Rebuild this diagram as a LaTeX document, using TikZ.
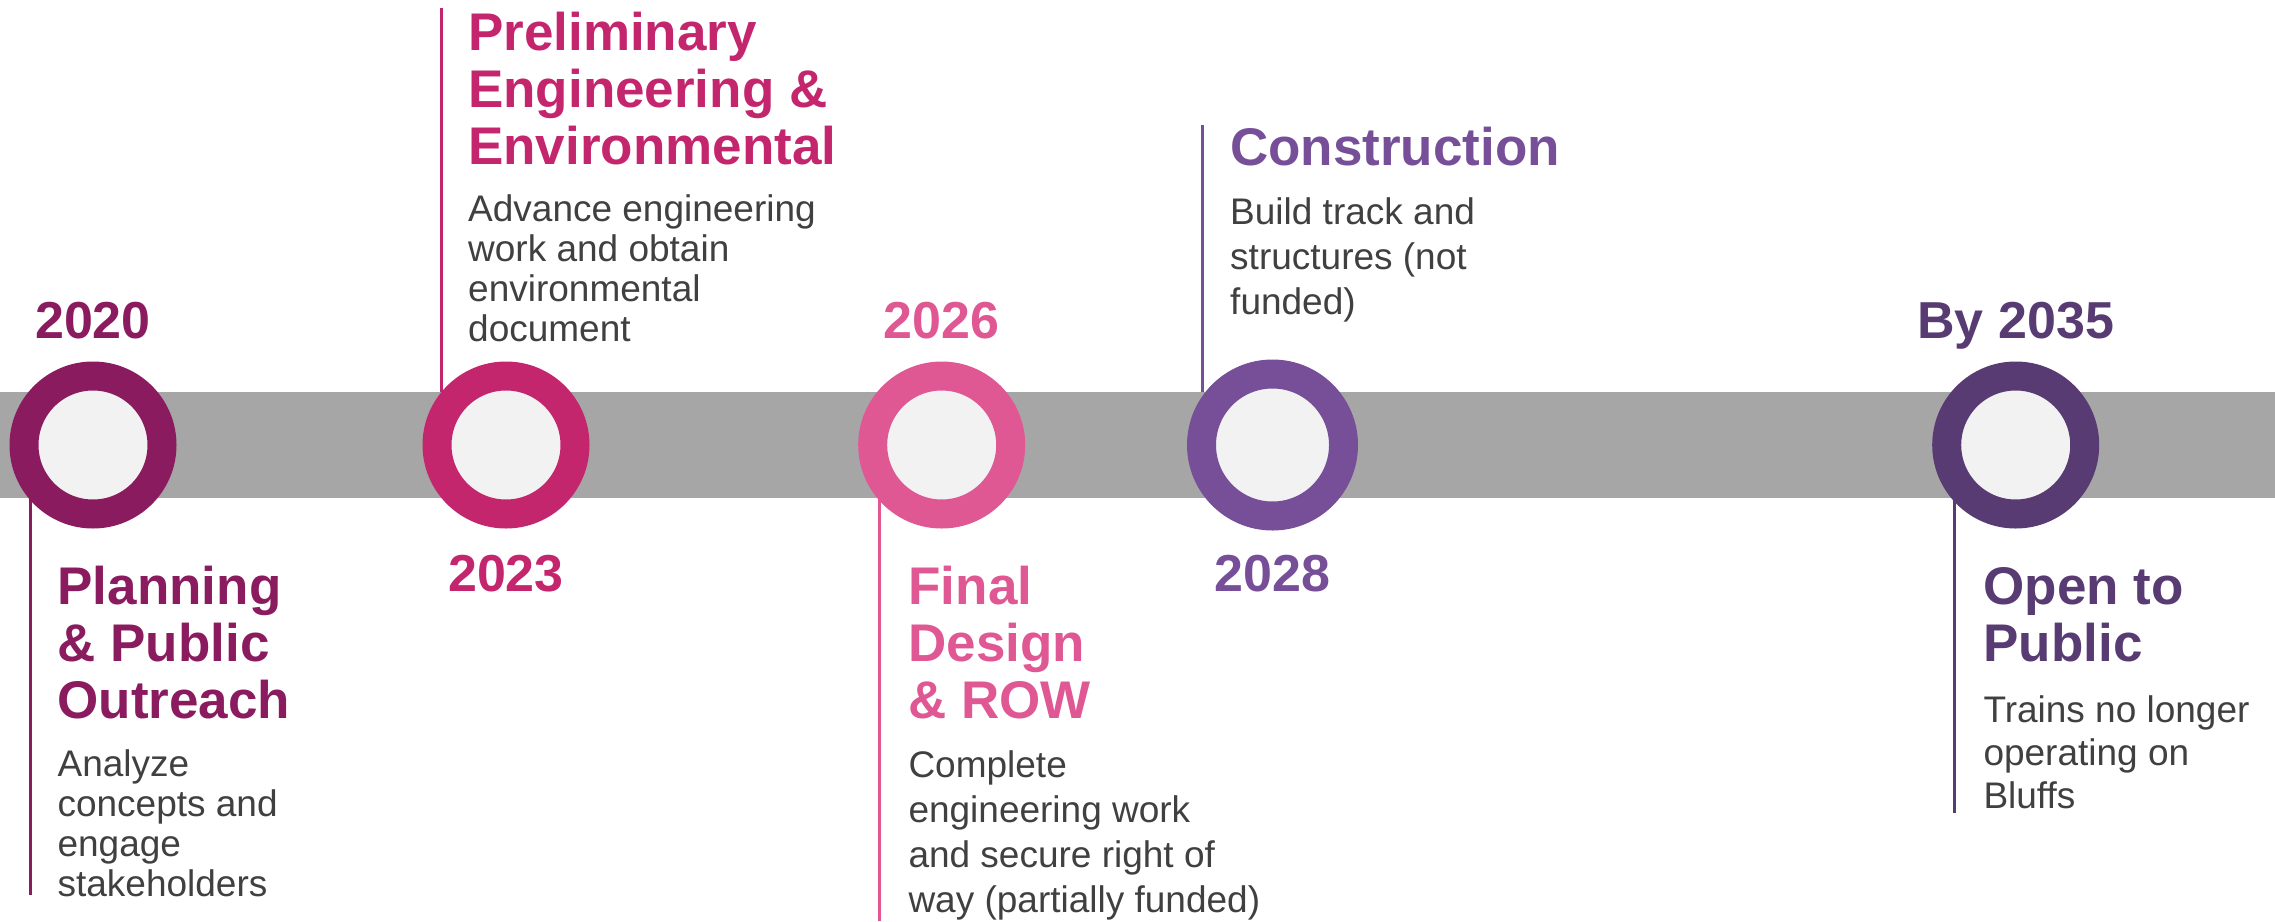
\documentclass[tikz,border=0pt]{standalone}
\usepackage{fontspec}
\setmainfont{Liberation Sans}
\usetikzlibrary{positioning}
\usetikzlibrary{backgrounds}

\definecolor{planc}{HTML}{8B1B5F}
\definecolor{prelc}{HTML}{C4266E}
\definecolor{finalc}{HTML}{DF5893}
\definecolor{buildc}{HTML}{774F98}
\definecolor{openc}{HTML}{583B72}
\definecolor{bargray}{HTML}{A6A6A6}
\definecolor{ringfill}{HTML}{F2F2F2}
\definecolor{blurbgray}{HTML}{404040}

\tikzset{
  ring/.style={circle, draw=#1, line width=29pt, fill=ringfill, minimum size=138pt, inner sep=0, outer sep=0},
  yearlabel/.style={font=\bfseries\fontsize{52}{57}\selectfont, text=#1, inner sep=0},
  phase/.style={font=\bfseries\fontsize{53}{57}\selectfont, text=#1, align=left, inner sep=0, anchor=north west},
  blurb/.style={font=\fontsize{37}{#1}\selectfont, text=blurbgray, align=left, inner sep=0, anchor=north west},
  stem/.style={draw=#1, line width=3pt},
}

\begin{document}
\begin{tikzpicture}[x=1pt,y=-1pt]
\useasboundingbox (0,0) rectangle (2275,921);

% milestones on the bar
\node[ring=planc] (m1) at (93,445) {};
\node[ring=prelc] (m2) at (506,445) {};
\node[ring=finalc] (m3) at (941.7,445) {};
\node[ring=buildc, minimum size=142pt] (m4) at (1272.5,445) {};
\node[ring=openc] (m5) at (2015.7,445) {};

% years
\node[yearlabel=planc, above=38pt of m1, anchor=base] (y1) {2020};
\node[yearlabel=prelc, below=41pt of m2] (y2) {2023};
\node[yearlabel=finalc, above=38pt of m3, anchor=base] (y3) {2026};
\node[yearlabel=buildc, below=39pt of m4] (y4) {2028};
\node[yearlabel=openc, above=38pt of m5, anchor=base] (y5) {By 2035};

% phase titles
\node[phase=planc] (t1) at (57.4,565.6) {Planning\\\& Public\\Outreach};
\node[phase=prelc] (t2) at (468,11.7) {Preliminary\\Engineering \&\\Environmental};
\node[phase=finalc] (t3) at (908.3,565.6) {Final\\Design\\\& ROW};
\node[phase=buildc] (t4) at (1230,126.7) {Construction};
\node[phase=openc] (t5) at (1983.3,567.6) {Open to\\Public};

% descriptions
\node[blurb=40, below=31pt of t1.south west, anchor=north west] (d1) {Analyze\\concepts and\\engage\\stakeholders};
\node[blurb=40, below=29pt of t2.south west, anchor=north west] (d2) {Advance engineering\\work and obtain\\environmental\\document};
\node[blurb=45, below=32pt of t3.south west, anchor=north west] (d3) {Complete\\engineering work\\and secure right of\\way (partially funded)};
\node[blurb=45, below=31pt of t4.south west, anchor=north west] (d4) {Build track and\\structures (not\\funded)};
\node[blurb=43, below=33pt of t5.south west, anchor=north west] (d5) {Trains no longer\\operating on\\Bluffs};

% stem ends
\coordinate (e1) at (30.6,895);
\coordinate (e2) at (441.7,8);
\coordinate (e3) at (879.3,921);
\coordinate (e4) at (1202.7,125);
\coordinate (e5) at (1954,812.6);

\begin{scope}[on background layer]
\draw[stem=planc] (e1 |- m1.center) -- (e1);
\draw[stem=prelc] (e2) -- (e2 |- m2.center);
\draw[stem=finalc] (e3 |- m3.center) -- (e3);
\draw[stem=buildc] (e4) -- (e4 |- m4.center);
\draw[stem=openc] (e5 |- m5.center) -- (e5);
% the bar
\fill[bargray] (0,392) rectangle (2275,498);
\end{scope}
\end{tikzpicture}
\end{document}
